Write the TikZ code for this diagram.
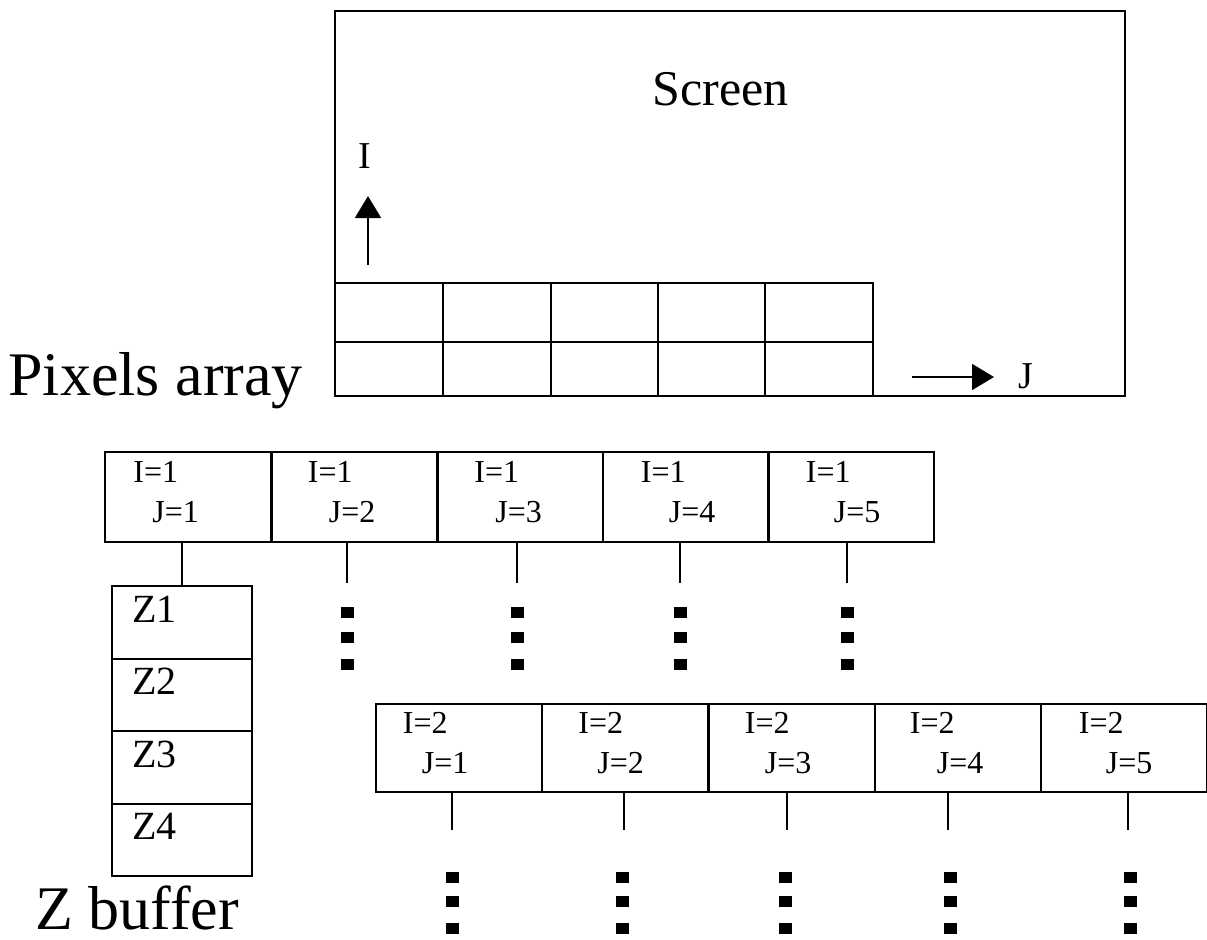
\documentclass[tikz,border=0pt]{standalone}
\usepackage{fontspec}
\setmainfont{Liberation Serif}
\usetikzlibrary{arrows.meta}
\tikzset{
  boxcell/.style={draw,line width=1pt,inner sep=0pt,minimum width=83pt},
  zcell/.style={draw,line width=1pt,inner sep=0pt,minimum width=70pt,minimum height=36.25pt},
  lbl/.style={inner sep=0pt,anchor=base west,font=\fontsize{16pt}{18pt}\selectfont},
  zlbl/.style={inner sep=0pt,anchor=base west,font=\fontsize{20pt}{22pt}\selectfont},
  biglbl/.style={inner sep=0pt,anchor=base west,font=\fontsize{31pt}{34pt}\selectfont},
  axlbl/.style={inner sep=0pt,anchor=base,font=\fontsize{19pt}{22pt}\selectfont},
  conn/.style={line width=0.8pt},
  dotsq/.style={fill,inner sep=0pt,minimum width=6.5pt,minimum height=5.5pt},
  axarrow/.style={line width=0.9pt,-{Triangle[length=11pt,width=13pt]}}
}
\begin{document}
\begin{tikzpicture}[x=0.5pt,y=-0.5pt]
\useasboundingbox (0,0) rectangle (1207,939);
% screen
\draw[line width=1.4pt] (335,11) rectangle (1125,396);
\node[inner sep=0pt,anchor=base west,font=\fontsize{25pt}{28pt}\selectfont] (screen) at (652,105) {Screen};
% pixel grid
\foreach \xa/\xb in {335/443,443/551,551/658,658/765,765/873}{
  \draw[line width=1.2pt] (\xa,283) rectangle (\xb,342);
  \draw[line width=1.2pt] (\xa,342) rectangle (\xb,396);
}
% axes
\coordinate (ia) at (368,265); \coordinate (ib) at (368,196);
\draw[axarrow] (ia) -- (ib);
\node[axlbl] (ilbl) at (365,168) {I};
\coordinate (ja) at (912,377); \coordinate (jb) at (994,377);
\draw[axarrow] (ja) -- (jb);
\node[axlbl,anchor=base west] (jlbl) at (1018,388) {J};
\node[biglbl] (pix) at (8,395) {Pixels array};
% row 1
\foreach \k/\cx/\di/\dj in {1/188/29/48,2/354.5/37/58,3/520/38/59,4/685.5/39/67,5/850.5/39/67}{
  \node[boxcell,minimum height=45pt] (r1c\k) at (\cx,497) {};
  \node[lbl] (r1i\k) at ([xshift=\di*0.5pt]r1c\k.west |- 0,482) {I=1};
  \node[lbl] (r1j\k) at ([xshift=\dj*0.5pt]r1c\k.west |- 0,522) {J=\k};
}
% Z buffer
\foreach \k/\cy in {1/622.5,2/695,3/767.5,4/840}{
  \node[zcell] (z\k) at (182,\cy) {};
  \node[zlbl] (zl\k) at ([xshift=10.5pt,yshift=-18.5pt]z\k.north west) {Z\k};
}
\draw[conn] (z1.north |- r1c1.south) -- (z1.north);
\node[biglbl] (zbuf) at (35,929) {Z buffer};
% row 1 connectors and dots
\foreach \k/\x in {2/347,3/517,4/680,5/847}{
  \coordinate (e1\k) at (\x,583);
  \draw[conn] (e1\k |- r1c\k.south) -- (e1\k);
  \node[dotsq] (d1\k a) at (\x,612) {};
  \node[dotsq] (d1\k b) at (\x,637) {};
  \node[dotsq] (d1\k c) at (\x,664) {};
}
% row 2
\foreach \k/\cx/\di/\dj/\ex/\dx in {1/458.5/28/47/452/452,2/625/37/56/624/622,3/791.5/37/57/787/785,4/957.5/36/63/948/950,5/1123.5/39/66/1128/1130}{
  \node[boxcell,minimum height=44pt] (r2c\k) at (\cx,748) {};
  \node[lbl] (r2i\k) at ([xshift=\di*0.5pt]r2c\k.west |- 0,733) {I=2};
  \node[lbl] (r2j\k) at ([xshift=\dj*0.5pt]r2c\k.west |- 0,773) {J=\k};
  \coordinate (e2\k) at (\ex,830);
  \draw[conn] (e2\k |- r2c\k.south) -- (e2\k);
  \node[dotsq] (d2\k a) at (\dx,877) {};
  \node[dotsq] (d2\k b) at (\dx,901) {};
  \node[dotsq] (d2\k c) at (\dx,928) {};
}
\end{tikzpicture}
\end{document}
